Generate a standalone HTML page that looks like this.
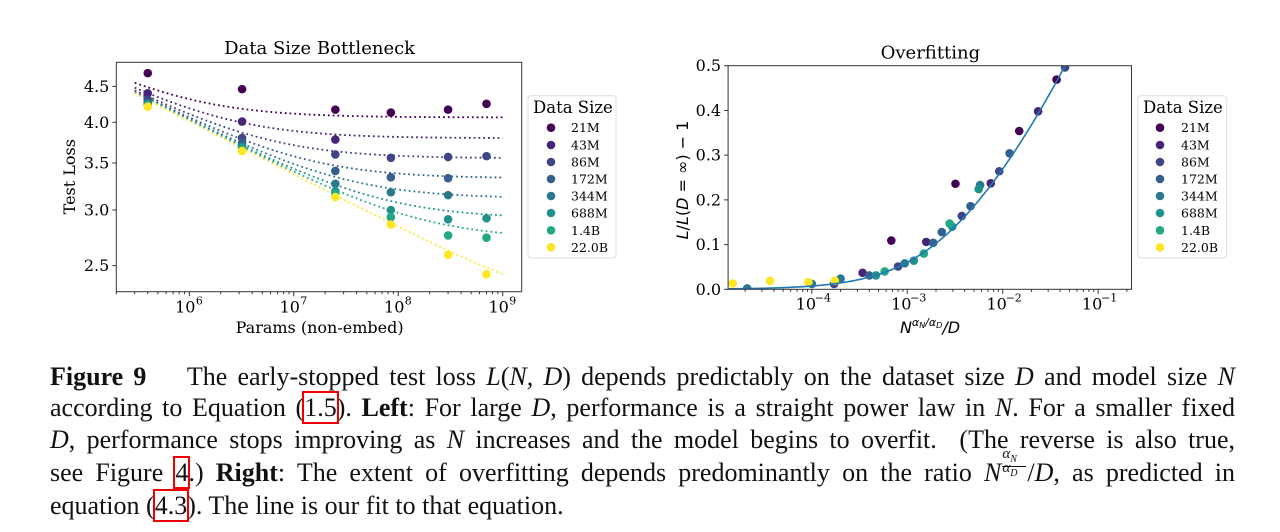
<!DOCTYPE html>
<html><head><meta charset="utf-8">
<style>
html,body{margin:0;padding:0;background:#fff;}
body{width:1280px;height:532px;position:relative;overflow:hidden;font-family:"Liberation Serif",serif;}
svg{position:absolute;left:0;top:0;}
.cap{position:absolute;left:50px;width:1185px;height:32px;font-size:26px;line-height:30px;color:#111;white-space:nowrap;}
.j{text-align:justify;text-align-last:justify;white-space:normal;}
.rb{outline:2px solid #e00;outline-offset:0px;}
i{font-style:italic;}
.frac{display:inline-block;position:relative;width:26px;height:1px;vertical-align:baseline;font-style:italic;font-size:15px;line-height:13px;}
.frac .n{position:absolute;left:1px;top:-32px;border-bottom:1px solid #111;width:24px;text-align:center;}
.frac .d{position:absolute;left:1px;top:-18px;width:24px;text-align:center;}
</style></head>
<body>
<svg id="chart" width="1280" height="345" font-family="DejaVu Serif, serif"></svg>

<div class="cap j" style="top:362px"><b>Figure 9</b>&nbsp;&nbsp;&nbsp; The early-stopped test loss <i>L</i>(<i>N, D</i>) depends predictably on the dataset size <i>D</i> and model size <i>N</i></div>
<div class="cap j" style="top:393px">according to Equation (<span class="rb">1.5</span>). <b>Left</b>: For large <i>D</i>, performance is a straight power law in <i>N</i>. For a smaller fixed</div>
<div class="cap j" style="top:425px"><i>D</i>, performance stops improving as <i>N</i> increases and the model begins to overfit. &nbsp;(The reverse is also true,</div>
<div class="cap j" style="top:458px">see Figure <span class="rb">4</span>.) <b>Right</b>: The extent of overfitting depends predominantly on the ratio <i>N</i><span class="frac"><span class="n">α<sub style="font-size:10px">N</sub></span><span class="d">α<sub style="font-size:10px">D</sub></span></span>/<i>D</i>, as predicted in</div>
<div class="cap" style="top:491px">equation (<span class="rb">4.3</span>). The line is our fit to that equation.</div>

<script>
// ---------- data ----------
const sizeLabels = ["21M","43M","86M","172M","344M","688M","1.4B","22.0B"];
const dataSizes = [21e6,43e6,86e6,172e6,344e6,688e6,1.4e9,22e9];
const colors = ["#440154","#482475","#414487","#355f8d","#2a788e","#21918c","#22a884","#fde725"];
// left chart: params and losses
const params = [4.0e5,3.2e6,2.5e7,8.5e7,3.0e8,7.0e8];
const loss21M  = [4.70,4.46,4.17,4.13,4.17,4.25];
const loss43M  = [4.40,4.01,3.78,null,null,null];
const loss86M  = [4.31,3.80,3.60,3.56,3.57,3.58];
const loss172M = [4.27,3.74,3.41,3.34,3.33,null];
const loss344M = [4.25,3.70,3.27,3.18,3.15,null];
const loss688M = [4.24,3.68,3.19,3.00,2.91,2.92];
const loss1_4B = [4.23,3.67,3.17,2.93,2.76,2.74];
const loss22B  = [4.21,3.64,3.13,2.86,2.59,2.43];
const leftTicksY = [2.5,3.0,3.5,4.0,4.5];
const leftTickLabelsY = ["2.5","3.0","3.5","4.0","4.5"];
const leftTicksX = [6,7,8,9];
// fit constants (Eq. 1.5)
const alphaN = 0.076, alphaD = 0.095, Nc = 8.8e13, Dc = 5.4e13;
// right chart: ratio x and overfit y
const ovX21M  = [6.8e-4,3.2e-3,1.49e-2,3.67e-2];
const ovY21M  = [0.109,0.236,0.354,0.469];
const ovX43M  = [3.4e-4,1.58e-3,7.5e-3,2.35e-2];
const ovY43M  = [0.037,0.106,0.237,0.398];
const ovX86M  = [1.71e-4,8.0e-4,3.73e-3,9.2e-3,4.5e-2];
const ovY86M  = [0.012,0.051,0.164,0.264,0.496];
const ovX172M = [4.0e-4,1.87e-3,2.3e-3,4.6e-3,1.18e-2];
const ovY172M = [0.031,0.104,0.128,0.186,0.304];
const ovX344M = [2.1e-5,1.0e-4,2.0e-4,9.4e-4,5.8e-3];
const ovY344M = [0.002,0.012,0.024,0.058,0.233];
const ovX688M = [4.7e-4,1.17e-3,2.96e-3,5.6e-3];
const ovY688M = [0.031,0.064,0.140,0.224];
const ovX1_4B = [5.8e-4,1.49e-3,2.78e-3];
const ovY1_4B = [0.040,0.080,0.147];
const ovX22B  = [1.48e-5,3.65e-5,9.2e-5,1.74e-4];
const ovY22B  = [0.013,0.019,0.016,0.019];
const rightTicksY = [0,0.1,0.2,0.3,0.4,0.5];
const rightTickLabelsY = ["0.0","0.1","0.2","0.3","0.4","0.5"];
const rightTicksX = [-4,-3,-2,-1];
const fitK = 629, fitA = 0.12;

const lossSeries = [loss21M,loss43M,loss86M,loss172M,loss344M,loss688M,loss1_4B,loss22B];
const ovXs = [ovX21M,ovX43M,ovX86M,ovX172M,ovX344M,ovX688M,ovX1_4B,ovX22B];
const ovYs = [ovY21M,ovY43M,ovY86M,ovY172M,ovY344M,ovY688M,ovY1_4B,ovY22B];

// ---------- helpers ----------
const NS = "http://www.w3.org/2000/svg";
const svg = document.getElementById("chart");
function mk(tag, attrs, parent){
  const e = document.createElementNS(NS, tag);
  for (const k in attrs) e.setAttribute(k, attrs[k]);
  (parent||svg).appendChild(e);
  return e;
}

// ---------- left chart ----------
const L = {l:116.3, r:521.7, t:62.3, b:291.7};
const lxMin = 5.301, lxMax = 9.182;
const lyMin = Math.log(2.295), lyMax = Math.log(4.87);
const lx = v => L.l + (Math.log10(v) - lxMin) / (lxMax - lxMin) * (L.r - L.l);
const ly = v => L.b - (Math.log(v) - lyMin) / (lyMax - lyMin) * (L.b - L.t);

const lg = mk("g", {});



let t = mk("text", {x:319.6, y:54, "text-anchor":"middle", "font-size":"18", fill:"#000"}, lg);
t.textContent = "Data Size Bottleneck";



for (let s = 0; s < dataSizes.length; s++) {
  let d = "";
  for (let i = 0; i <= 120; i++) {
    const lg10 = Math.log10(3e5) + i / 120 * (9 - Math.log10(3e5));
    const N = Math.pow(10, lg10);
    const v = Math.pow(Math.pow(Nc / N, alphaN / alphaD) + Dc / dataSizes[s], alphaD);
    d += (i ? "L" : "M") + lx(N).toFixed(2) + "," + ly(v).toFixed(2);
  }
  const p = mk("path", {d:d, fill:"none", stroke:colors[s], "stroke-width":"1.8", "stroke-dasharray":"1.8,3"}, lg);
  
  
}
for (let s = 0; s < lossSeries.length; s++) {
  lossSeries[s].forEach((v, i) => {
    if (v === null) return;
    const c = mk("circle", {cx:lx(params[i]), cy:ly(v), r:4.3, fill:colors[s]}, lg);
    
    
  });
}
let f = mk("rect", {x:L.l, y:L.t, width:L.r-L.l, height:L.b-L.t, fill:"none", stroke:"#333", "stroke-width":"1"}, lg);


leftTicksY.forEach((v, i) => {
  const y = ly(v);
  mk("line", {x1:L.l-4, x2:L.l, y1:y, y2:y, stroke:"#333"}, lg);
  const tt = mk("text", {x:L.l-7, y:y+5.5, "text-anchor":"end", "font-size":"16"}, lg);
  tt.textContent = leftTickLabelsY[i];
  
  
});
for (let dcd = 5; dcd <= 9; dcd++) {
  for (let m = 1; m <= 9; m++) {
    const lv = dcd + Math.log10(m);
    if (lv < lxMin || lv > lxMax) continue;
    const x = lx(Math.pow(10, lv));
    mk("line", {x1:x, x2:x, y1:L.b, y2:L.b + (m === 1 ? 4.5 : 2.5), stroke:"#333"}, lg);
  }
}
leftTicksX.forEach(e => {
  const x = lx(Math.pow(10, e));
  const tt = mk("text", {x:x-4, y:L.b+21, "text-anchor":"middle", "font-size":"16"}, lg);
  tt.textContent = "10";
  
  
  const sup = mk("text", {x:x+10, y:L.b+13, "text-anchor":"middle", "font-size":"11"}, lg);
  sup.textContent = String(e);
});
t = mk("text", {x:319.6, y:333, "text-anchor":"middle", "font-size":"16"}, lg);
t.textContent = "Params (non-embed)";


t = mk("text", {x:0, y:0, "text-anchor":"middle", "font-size":"16", transform:"translate(75,176.7) rotate(-90)"}, lg);
t.textContent = "Test Loss";



function legend(x0, x1, dotX, textX, titleX, parent, name) {
  const g = mk("g", {}, parent);
  
  
  mk("rect", {x:x0, y:95.7, width:x1-x0, height:162.3, rx:3, fill:"#fff", stroke:"#ddd"}, g);
  const tt = mk("text", {x:titleX, y:113, "font-size":"16.5"}, g);
  tt.textContent = "Data Size";
  const ys = [127.7,145,162,179,196,213,230.3,247.3];
  sizeLabels.forEach((lab, i) => {
    const e = mk("g", {}, g);
    
    
    mk("circle", {cx:dotX, cy:ys[i], r:4.3, fill:colors[i]}, e);
    const tx = mk("text", {x:textX, y:ys[i]+4.5, "font-size":"12.5"}, e);
    tx.textContent = lab;
  });
}
legend(528, 616, 551, 571, 533, lg, 'left-legend');

// ---------- right chart ----------
const R = {l:728.1, r:1131.5, t:65.7, b:289.3};
const rxMin = -4.878, rxMax = -0.65;
const rx = v => R.l + (Math.log10(v) - rxMin) / (rxMax - rxMin) * (R.r - R.l);
const ry = v => R.b - v / 0.5 * (R.b - R.t);

const rg = mk("g", {});



t = mk("text", {x:930.4, y:58.5, "text-anchor":"middle", "font-size":"18"}, rg);
t.textContent = "Overfitting";



const clip = mk("clipPath", {id:"rclip"}, rg);
mk("rect", {x:R.l, y:R.t, width:R.r-R.l, height:R.b-R.t}, clip);

const pg = mk("g", {"clip-path":"url(#rclip)"}, rg);
for (let s = 0; s < ovXs.length; s++) {
  ovXs[s].forEach((xv, i) => {
    const c = mk("circle", {cx:rx(xv), cy:ry(ovYs[s][i]), r:4.3, fill:colors[s]}, pg);
    
    
  });
}
let d = "";
for (let i = 0; i <= 200; i++) {
  const lv = rxMin + i / 200 * (rxMax - rxMin);
  const xv = Math.pow(10, lv);
  const yv = Math.pow(1 + fitK * xv, fitA) - 1;
  d += (i ? "L" : "M") + rx(xv).toFixed(2) + "," + ry(yv).toFixed(2);
}
const fit = mk("path", {d:d, fill:"none", stroke:"#1f77b4", "stroke-width":"1.6"}, pg);



f = mk("rect", {x:R.l, y:R.t, width:R.r-R.l, height:R.b-R.t, fill:"none", stroke:"#333"}, rg);


rightTicksY.forEach((v, i) => {
  const y = ry(v);
  mk("line", {x1:R.l-4, x2:R.l, y1:y, y2:y, stroke:"#333"}, rg);
  const tt = mk("text", {x:R.l-7, y:y+5.5, "text-anchor":"end", "font-size":"16"}, rg);
  tt.textContent = rightTickLabelsY[i];
  
  
});
for (let dcd = -5; dcd <= -1; dcd++) {
  for (let m = 1; m <= 9; m++) {
    const lv = dcd + Math.log10(m);
    if (lv < rxMin || lv > rxMax) continue;
    const x = rx(Math.pow(10, lv));
    mk("line", {x1:x, x2:x, y1:R.b, y2:R.b + (m === 1 ? 4.5 : 2.5), stroke:"#333"}, rg);
  }
}
rightTicksX.forEach(e => {
  const x = rx(Math.pow(10, e));
  const tt = mk("text", {x:x-6, y:R.b+20, "text-anchor":"middle", "font-size":"16"}, rg);
  tt.textContent = "10";
  
  
  const sup = mk("text", {x:x+11, y:R.b+12, "text-anchor":"middle", "font-size":"11"}, rg);
  sup.textContent = "−" + String(-e);
});
t = mk("text", {x:930, y:333, "text-anchor":"middle", "font-size":"16", "font-family":"DejaVu Sans, sans-serif", "font-style":"italic"}, rg);
t.innerHTML = 'N<tspan font-size="11" dy="-7">α<tspan font-size="8" dy="2">N</tspan><tspan dy="-2">/α</tspan><tspan font-size="8" dy="2">D</tspan></tspan><tspan dy="5">/D</tspan>';


t = mk("text", {x:0, y:0, "text-anchor":"middle", "font-size":"16", "font-family":"DejaVu Sans, sans-serif", transform:"translate(688,180) rotate(-90)"}, rg);
t.innerHTML = '<tspan font-style="italic">L</tspan>/<tspan font-style="italic">L</tspan>(<tspan font-style="italic">D</tspan> = ∞) − 1';



legend(1137.8, 1226.7, 1160, 1181, 1143, rg, 'right-legend');
</script>
</body></html>
